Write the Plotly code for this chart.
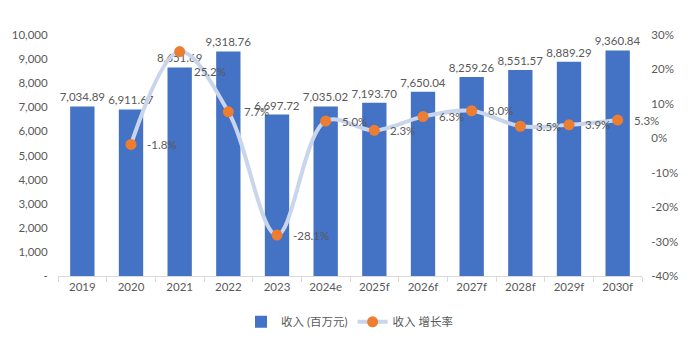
import plotly.graph_objects as go

years = ["2019", "2020", "2021", "2022", "2023", "2024e", "2025f", "2026f",
         "2027f", "2028f", "2029f", "2030f"]
revenue = [7034.89, 6911.67, 8651.69, 9318.76, 6697.72, 7035.02, 7193.70,
           7650.04, 8259.26, 8551.57, 8889.29, 9360.84]
growth_years = years[1:]
growth = [-1.8, 25.2, 7.7, -28.1, 5.0, 2.3, 6.3, 8.0, 3.5, 3.9, 5.3]

left_ticks = [0, 1000, 2000, 3000, 4000, 5000, 6000, 7000, 8000, 9000, 10000]
left_ticktext = ["-"] + [f"{v:,}" for v in left_ticks[1:]]
right_ticks = [-40, -30, -20, -10, 0, 10, 20, 30]

FONT = "Lato, 'Noto Sans CJK SC', sans-serif"
GRAY = "#595959"
FS = 11.5

fig = go.Figure()
fig.add_trace(go.Bar(
    x=years, y=revenue, name="收入 (百万元)",
    marker=dict(color="#4472C4", line=dict(width=0)),
    text=[f"{v:,.2f}" for v in revenue], textposition="outside",
    constraintext="none",
    textfont=dict(size=FS, color=GRAY, family=FONT),
    cliponaxis=False, yaxis="y",
))
fig.add_trace(go.Scatter(
    x=growth_years, y=growth, name="收入 增长率", yaxis="y2",
    mode="lines+markers",
    line=dict(color="#C9D5EC", width=4, shape="spline", smoothing=1.0),
    marker=dict(color="#ED7D31", size=11),
    cliponaxis=False,
))

for yr, g in zip(growth_years, growth):
    idx = years.index(yr)
    dx, dy = (12, -20) if yr == "2021" else (14, 0)
    fig.add_annotation(
        x=idx, y=g, xref="x", yref="y2", text=f"{g:.1f}%",
        showarrow=False, xanchor="left", yanchor="middle",
        xshift=dx, yshift=dy,
        font=dict(size=FS, color=GRAY, family=FONT),
    )

fig.update_layout(
    width=695, height=342,
    margin=dict(l=58, r=53, t=35, b=66, autoexpand=False),
    paper_bgcolor="white", plot_bgcolor="white",
    font=dict(family=FONT, size=FS, color=GRAY),
    bargap=0.5,
    showlegend=True,
    legend=dict(orientation="h", x=0.5, xanchor="center", y=-0.19,
                yanchor="middle", font=dict(size=FS, color=GRAY, family=FONT),
                itemwidth=30, traceorder="normal"),
    xaxis=dict(type="category", categoryorder="array", categoryarray=years,
               range=[-0.5, len(years) - 0.5], autorange=False,
               showgrid=False, showline=True, automargin=False,
               linecolor="#D9D9D9", linewidth=1, ticks="outside",
               tickson="boundaries", ticklen=5, tickcolor="#D9D9D9",
               tickfont=dict(size=FS, color=GRAY)),
    yaxis=dict(range=[0, 10000], tickvals=left_ticks, ticktext=left_ticktext,
               showgrid=False, zeroline=False, showline=False, automargin=False,
               tickfont=dict(size=FS, color=GRAY), ticklen=7,
               ticks="outside", tickcolor="white"),
    yaxis2=dict(range=[-40, 30], tickvals=right_ticks,
                ticktext=[f"{v}%" for v in right_ticks], automargin=False,
                overlaying="y", side="right", showgrid=False,
                zeroline=False, showline=False, ticks="outside",
                ticklen=6, tickcolor="white",
                tickfont=dict(size=FS, color=GRAY)),
)

fig.write_html("out.html")
